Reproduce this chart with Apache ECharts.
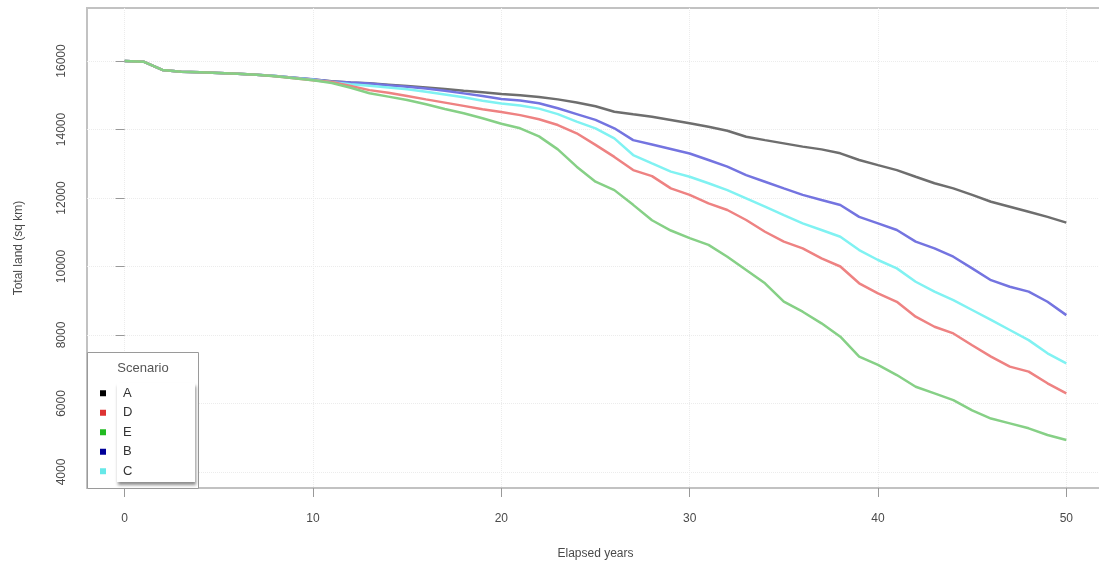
<!DOCTYPE html>
<html>
<head>
<meta charset="utf-8">
<script src="https://cdn.jsdelivr.net/npm/echarts@6/dist/echarts.min.js"></script>
<style>
  html, body { margin: 0; padding: 0; background: #fff; }
  #chart { width: 1099px; height: 568px; }
</style>
</head>
<body>
<div id="chart"></div>
<script>
// elapsed years 0..50
const years = [0,1,2,3,4,5,6,7,8,9,10,11,12,13,14,15,16,17,18,19,20,21,22,23,24,25,26,27,28,29,30,31,32,33,34,35,36,37,38,39,40,41,42,43,44,45,46,47,48,49,50];

const scenarioA = [16000,15980,15740,15690,15670,15650,15630,15600,15560,15510,15460,15410,15375,15350,15310,15270,15230,15180,15130,15085,15040,15000,14950,14880,14790,14680,14520,14445,14375,14280,14180,14080,13965,13790,13690,13595,13500,13420,13305,13110,12960,12815,12620,12430,12280,12090,11890,11745,11600,11450,11280];
const scenarioB = [16000,15980,15740,15690,15670,15650,15630,15600,15565,15515,15465,15405,15370,15340,15290,15250,15200,15130,15055,14980,14890,14850,14765,14620,14450,14280,14035,13690,13560,13430,13300,13110,12915,12670,12475,12280,12090,11940,11795,11450,11260,11065,10725,10530,10285,9945,9600,9410,9265,8970,8580];
const scenarioC = [16000,15980,15740,15690,15670,15650,15630,15600,15560,15505,15450,15380,15320,15280,15230,15175,15105,15025,14940,14840,14760,14700,14610,14450,14230,14035,13740,13255,13010,12770,12620,12430,12230,11990,11745,11500,11260,11065,10870,10480,10190,9945,9555,9265,9020,8730,8440,8145,7850,7465,7170];
const scenarioD = [16000,15980,15740,15690,15670,15650,15630,15600,15555,15500,15440,15390,15270,15150,15075,14980,14880,14785,14690,14590,14510,14420,14300,14130,13890,13550,13200,12815,12640,12280,12090,11845,11650,11357,11015,10725,10530,10240,10000,9510,9215,8970,8535,8240,8045,7700,7370,7075,6930,6590,6295];
const scenarioE = [16000,15980,15740,15690,15670,15650,15630,15600,15555,15500,15435,15360,15220,15060,14960,14860,14735,14600,14475,14330,14170,14035,13800,13420,12915,12475,12230,11800,11350,11050,10830,10630,10285,9900,9510,8975,8680,8340,7950,7370,7125,6830,6490,6295,6100,5800,5560,5420,5275,5080,4935];

const xTicks = [0, 10, 20, 30, 40, 50];
const yTicks = [4000, 6000, 8000, 10000, 12000, 14000, 16000];
const legendOrder = ['A', 'D', 'E', 'B', 'C'];

const pairs = vals => years.map((y, i) => [y, vals[i]]);

const chart = echarts.init(document.getElementById('chart'));

function line(name, vals, lineColor, keyColor) {
  return {
    name: name,
    type: 'line',
    data: pairs(vals),
    symbol: 'none',
    itemStyle: { color: keyColor },
    lineStyle: { color: lineColor, width: 2.5 },
    emphasis: { disabled: true }
  };
}

const axisFont = { fontFamily: 'Liberation Sans', fontSize: 12, color: '#4a4a4a' };

chart.setOption({
  animation: false,
  backgroundColor: '#fff',
  grid: {
    left: 87, top: 8, width: 1017, height: 480,
    outerBoundsMode: 'none',
    show: true, borderColor: '#c2c2c2', borderWidth: 2
  },
  xAxis: {
    type: 'value', min: -2, max: 52,
    name: 'Elapsed years', nameLocation: 'middle', nameGap: 60,
    nameTextStyle: axisFont,
    axisLine: { show: false },
    axisTick: { customValues: xTicks, length: 9, lineStyle: { color: '#999' } },
    axisLabel: Object.assign({ customValues: xTicks, margin: 25 }, axisFont),
    splitLine: { show: true, lineStyle: { color: '#ececec', type: 'dotted' } }
  },
  yAxis: {
    type: 'value', min: 3532, max: 17548,
    name: 'Total land (sq km)', nameLocation: 'middle', nameGap: 62,
    nameTextStyle: axisFont,
    axisLine: { show: false },
    axisTick: { customValues: yTicks, length: 9, lineStyle: { color: '#999' } },
    axisLabel: Object.assign({ customValues: yTicks, rotate: 90, margin: 19, formatter: v => String(v) }, axisFont),
    splitLine: { show: true, lineStyle: { color: '#ececec', type: 'dotted' } }
  },
  legend: {
    data: legendOrder,
    orient: 'vertical',
    left: 100, top: 386,
    padding: 0,
    itemGap: 5,
    itemWidth: 6, itemHeight: 6,
    icon: 'rect',
    selectedMode: false,
    z: 60,
    textStyle: { fontFamily: 'Liberation Sans', fontSize: 13, lineHeight: 14.5, color: '#333', padding: [0, 0, 0, 12] }
  },
  graphic: [
    {
      type: 'rect', z: 50,
      shape: { x: 87.5, y: 352.5, width: 111, height: 136 },
      style: { fill: '#fff', stroke: '#9a9a9a', lineWidth: 1 }
    },
    {
      type: 'rect', z: 51,
      shape: { x: 117, y: 383, width: 78, height: 99 },
      style: { fill: '#fff', shadowBlur: 3, shadowOffsetX: 1, shadowOffsetY: 3, shadowColor: 'rgba(0,0,0,0.45)' }
    },
    {
      type: 'text', z: 52, x: 143, y: 368,
      style: { text: 'Scenario', fill: '#555', font: '13px "Liberation Sans"', align: 'center', verticalAlign: 'middle' }
    }
  ],
  series: [
    line('A', scenarioA, '#6e6e6e', '#000000'),
    line('B', scenarioB, '#7474e0', '#000099'),
    line('C', scenarioC, '#80f2f2', '#66e8e8'),
    line('D', scenarioD, '#ee8282', '#dd3333'),
    line('E', scenarioE, '#86d086', '#22bb22')
  ]
});
</script>
</body>
</html>
